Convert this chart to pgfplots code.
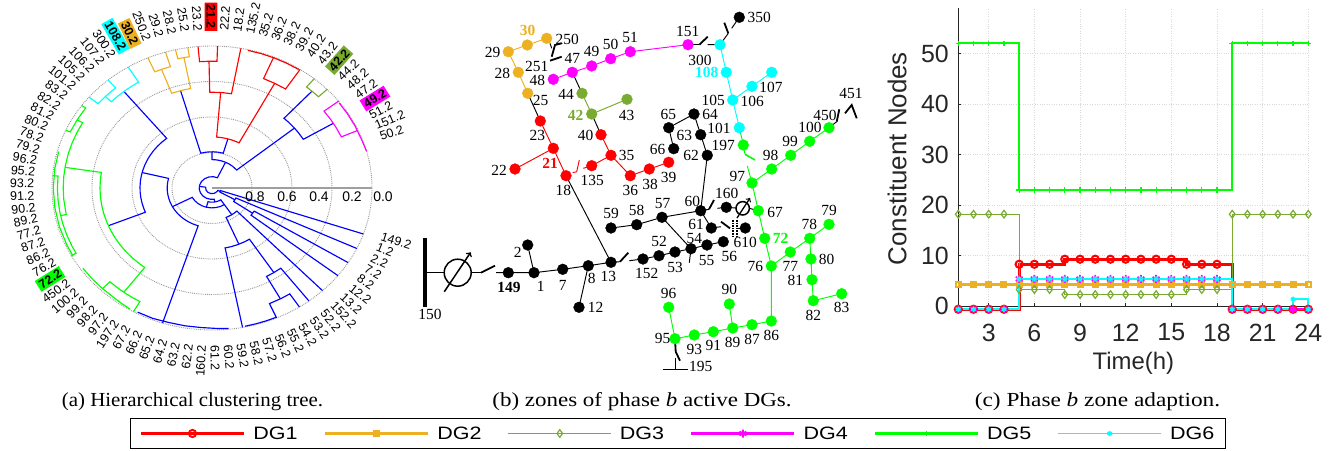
\documentclass[border=0pt]{standalone}
\usepackage{fontspec}
\setmainfont{Liberation Sans}
\newfontfamily\tnr{Liberation Serif}
\usepackage{pgfplots}
\usepackage{pgfplotstable}
\pgfplotsset{compat=1.18}
\definecolor{dgorange}{rgb}{0.93,0.69,0.13}
\definecolor{dgolive}{rgb}{0.47,0.67,0.19}
\definecolor{dggreen}{rgb}{0,1,0}
\definecolor{dgcyan}{rgb}{0,1,1}
\definecolor{dgblue}{rgb}{0,0,1}
\definecolor{dgred}{rgb}{1,0,0}
\definecolor{dgmag}{rgb}{1,0,1}
\definecolor{dgax}{rgb}{0.15,0.15,0.15}
\newcommand{\br}[2]{\addplot[data cs=polar,#1,line width=1.15bp,line join=miter] coordinates {#2};}
\newcommand{\ed}[3][0.95bp]{\addplot[#2,line width=#1] coordinates {#3};}
\newcommand{\nd}[2]{\addplot[only marks,mark=*,mark size=5.4bp,mark options={draw=#1,fill=#1}] coordinates {#2};}
\pgfplotstableread{
h  a    b    c    d    e   f
1  -0.6 4.3  18.2 -0.6 52  -0.6
2  -0.6 4.3  18.2 -0.6 52  -0.6
3  -0.6 4.3  18.2 -0.6 52  -0.6
4  -0.6 4.3  18.2 -0.6 52  -0.6
5  8.3  4.3  3.3  5.4  23  5.4
6  8.3  4.3  3.3  5.4  23  5.4
7  8.3  4.3  3.3  5.4  23  5.4
8  9.3  4.3  2.3  5.4  23  5.4
9  9.3  4.3  2.3  5.4  23  5.4
10 9.3  4.3  2.3  5.4  23  5.4
11 9.3  4.3  2.3  5.4  23  5.4
12 9.3  4.3  2.3  5.4  23  5.4
13 9.3  4.3  2.3  5.4  23  5.4
14 9.3  4.3  2.3  5.4  23  5.4
15 9.3  4.3  2.3  5.4  23  5.4
16 8.3  4.3  3.3  5.4  23  5.4
17 8.3  4.3  3.3  5.4  23  5.4
18 8.3  4.3  3.3  5.4  23  5.4
19 -0.6 4.3  18.2 -0.6 52  -0.6
20 -0.6 4.3  18.2 -0.6 52  -0.6
21 -0.6 4.3  18.2 -0.6 52  -0.6
22 -0.6 4.3  18.2 -0.6 52  -0.6
23 -0.6 4.3  18.2 -0.6 52  1.4
24 -0.6 4.3  18.2 -0.6 52  -0.6
}\zonetable
\begin{document}
\begin{tikzpicture}
\useasboundingbox (0,0) rectangle (1336bp,-451bp);
% rings
\begin{scope}[x=1bp,y=-1bp]
\foreach \k in {1,2,3,4}{
  \draw[gray!80,densely dotted,line width=0.9bp] (212,188) ellipse [x radius={40*\k},y radius={35.5*\k}];
}
\draw[gray!75,line width=1.7bp] (212,188)--(372,188);
\end{scope}
% (a) polar tree
\begin{axis}[at={(212bp,-188bp)},anchor=center,scale only axis,width=320bp,height=284bp,
  xmin=-1,xmax=1,ymin=-1,ymax=1,axis lines=none,clip=false]
% root and blue
\br{dgblue}{(172,.08)(172,.04)(200,.04)(230,.04)(260,.04)(290,.04)(320,.04)(335,.04)(335,.055)}
\br{dgblue}{(65,.197)(65,.08)(85,.08)(105,.08)(125,.08)(145,.08)(165,.08)(185,.08)(205,.08)(225,.08)(245,.08)(265,.08)(280,.08)(280,.1)}
\br{dgblue}{(-104.5,.14)(-104.5,.1)(-95,.1)(-85,.1)(-75,.1)(-65,.1)(-56.6,.1)(-56.6,.225)}
\br{dgblue}{(-152,.28)(-152,.14)(-140,.14)(-128,.14)(-116,.14)(-104,.14)(-92,.14)(-80,.14)(-68,.14)(-57,.14)}
\br{dgblue}{(166,.45)(166,.28)(172,.28)(178,.28)(184,.28)(190,.28)(196,.28)(202,.28)(208,.28)(214,.28)(220,.28)(226,.28)(232,.28)(238,.28)(244,.28)(252,.28)(252,1)}
\br{dgblue}{(129,.875)(129,.45)(134,.45)(139,.45)(144,.45)(149,.45)(154,.45)(159,.45)(164,.45)(169,.45)(174,.45)(179,.45)(184,.45)(189,.45)(194,.45)(199,.45)(202.3,.45)(202.3,.70)}
\br{dgblue}{(90,.255)(90,.2)(82,.2)(74,.2)(66,.2)(58,.2)(50,.2)(39.3,.2)(39.3,.666)}
\br{dgblue}{(106,.713)(106,.255)(100,.255)(94,.255)(88,.255)(82,.255)(74,.255)(74,.36)}
\br{dgblue}{(47.5,.925)(47.5,.666)(44,.666)(40,.666)(36,.666)(31,.666)(31,.885)}
\br{dgblue}{(-30,.165)(-30,.055)(-25,.055)(-18.9,.055)(-18.9,1)}
\br{dgblue}{(-25.2,1)(-25.2,.165)(-30,.165)(-35,.165)(-35,.31)}
\br{dgblue}{(-31.7,1)(-31.7,.31)(-35,.31)(-38.1,.31)(-38.1,1)}
\br{dgblue}{(-46.3,1)(-46.3,.225)(-52,.225)(-58,.225)(-63,.225)(-67,.225)(-67,.43)}
\br{dgblue}{(-79,1)(-79,.43)(-74,.43)(-68,.43)(-62,.43)(-57,.43)(-57,.71)}
\br{dgblue}{(-61.3,.89)(-61.3,.71)(-57,.71)(-52.7,.71)(-52.7,1)}
\br{dgblue}{(-66.2,1)(-66.2,.89)(-61,.89)(-56.9,.89)(-56.9,1)}
\br{dgblue}{(-118,.99)(-112,.99)(-106,.985)(-100,.985)(-94,.985)(-88,.99)(-84,.995)}
\br{dgblue}{(-78,.995)(-74,.995)(-70,.995)(-66,.995)}
% cyan
\br{dgcyan}{(136,.927)(136,.875)(132,.875)(128,.875)(124,.875)(121.6,.875)(121.6,1)}
\br{dgcyan}{(140.2,1)(140.2,.927)(136,.927)(133,.927)(130.5,.927)(130.5,1)}
% orange
\br{dgorange}{(110.7,.893)(110.7,.713)(107,.713)(104,.713)(100.8,.713)(100.8,.935)}
\br{dgorange}{(103.2,1)(103.2,.935)(100.8,.935)(98.7,.935)(98.7,1)}
\br{dgorange}{(113.6,1)(113.6,.893)(110,.893)(106.9,.893)(106.9,1)}
% red
\br{dgred}{(85.4,.675)(85.4,.36)(80,.36)(75,.36)(70,.36)(65,.36)(62,.36)(62,.835)}
\br{dgred}{(67.3,1)(67.3,.835)(62,.835)(56.6,.835)(56.6,1)}
\br{dgred}{(91.2,.893)(91.2,.675)(85,.675)(79.6,.675)(79.6,1)}
\br{dgred}{(95,1)(95,.893)(91,.893)(88,.893)(88,1)}
\br{dgred}{(77,.995)(72,.995)(67,.995)(62,.995)(57,.995)}
% olive
\br{dgolive}{(50.3,1)(50.3,.925)(47,.925)(44,.925)(44,1)}
% magenta
\br{dgmag}{(37.7,1)(37.7,.885)(33,.885)(29,.885)(24,.885)(24,.995)}
\br{dgmag}{(37,.995)(32,.995)(26,.995)(20,.995)(15,1)}
% green
\br{dggreen}{(171,.93)(171,.70)(175,.70)(180,.70)(185,.70)(190,.70)(195,.70)(200,.70)(205,.70)(210,.70)(215,.70)(220,.70)(225,.70)(230,.70)(233.1,.70)(233.1,.918)}
\br{dggreen}{(-134,.99)(-134,.918)(-130,.918)(-126,.918)(-122,.918)(-119.4,.918)(-119.4,1)}
\br{dggreen}{(-145,.985)(-140,.985)(-135,.985)(-130,.985)(-125,.99)(-121,.995)}
\br{dggreen}{(150.4,.97)(150.4,.93)(155,.93)(160,.93)(165,.93)(170,.93)(175,.93)(180,.93)(185,.93)(191.6,.93)(191.6,.966)}
\br{dggreen}{(175,1)(175,.966)(180,.966)(185,.966)(190,.966)(195,.966)(200,.966)(205,.966)(208.4,.966)(208.4,1)}
\br{dggreen}{(156,1)(156,.97)(150,.97)(144.5,.97)(144.5,1)}
\br{dggreen}{(165,.992)(172,.992)(180,.992)(188,.992)(196,.992)(204,.992)(209,.992)}
\end{axis}
% (b) network
\begin{axis}[at={(0bp,-451bp)},anchor=south west,scale only axis,width=1336bp,height=451bp,
  xmin=0,xmax=1336,ymin=0,ymax=451,y dir=reverse,axis lines=none,clip=false]
% black feeders
\ed[3.4bp]{black}{(425,238.3)(425,306.7)}
\ed{black}{(425,272.7)(444,272.7)}
\ed[1.5bp]{black,->}{(444.3,291.7)(470.7,252.3)}
\ed{black}{(471,272.7)(481,272.7)}
\ed[1.8bp]{black}{(481,272.7)(495,265.7)}
\ed{black}{(496,272.7)(508.3,272.7)(534,272.7)(562.7,269.3)(588.3,265.7)(611,262.3)(620,261.7)}
\ed{black}{(534,272.7)(527.7,245)}
\ed{black}{(588.3,265.7)(579,307.3)}
\ed{black}{(611,262.3)(566,175.7)}
\ed[1.8bp]{black}{(620,261.7)(628.3,252.7)}
\ed{black}{(629.3,260.7)(643,259)(659,255.7)(675,252)(691,248.7)(707,245)(723.3,241.7)}
\ed{black}{(691,248.7)(689.3,262.7)}
\ed{black}{(691,248.7)(662,217.3)}
\ed{black}{(611,228)(636.7,224.7)(662,217.3)(700.7,210.7)(707.3,155.3)(700.7,134.7)(694,114)(668.7,127.7)(673.7,148.7)}
\ed{black}{(700.7,210.7)(711.3,228)(721,226.7)}
\ed[1.8bp]{black}{(721,221.7)(730,228.3)}
\ed{black}{(737,228)(745.3,228)}
\ed[1.6bp,dash pattern=on 1.6bp off 1bp]{black}{(733,220)(733,238)}
\ed[1.6bp,dash pattern=on 1.6bp off 1bp]{black}{(737,220)(737,238)}
\ed{black}{(700.7,210.7)(709,209.3)}
\ed[1.8bp]{black}{(709,209.3)(714,200)}
\ed{black}{(717.3,208.3)(726.3,207.3)(736,208)}
\ed{black}{(749.3,208.3)(758.3,210.7)}
\ed[1.3bp]{black,->}{(737,218)(750,198)}
\ed{black}{(527.7,93.3)(540.3,121)}
\ed{black}{(591.7,114)(601,134.7)}
\ed{black}{(582,93.3)(572.3,72.3)}
\ed{black}{(550,43.3)(551.7,48.3)}
\ed[1.8bp]{black}{(551.7,56.7)(555,45)(561.7,43.3)}
\ed[1.8bp]{black}{(550,60.7)(561.7,56.7)}
\ed{black}{(688,44.7)(699.3,44.7)}
\ed[1.8bp]{black}{(699.3,44.7)(707.7,36.7)}
\ed{black}{(707.7,44.7)(720,44.7)(728.3,33.3)}
\ed[1.8bp]{black}{(728.3,33.3)(724.3,22.7)}
\ed{black}{(731.7,28.3)(739.3,17.3)}
\ed{black}{(829,127.7)(836.7,121.7)}
\ed[1.8bp]{black}{(836.7,121.7)(839.3,109.3)}
\ed[1.8bp]{black}{(845,113.3)(851.7,105)(856.7,118.3)}
\ed[1.8bp]{black}{(675,338.7)(675.7,351.7)(680,360.7)}
\ed{black}{(675.7,358)(675.7,369.3)}
\ed[1.5bp]{black}{(662.7,369.3)(687.7,369.3)}
% coloured edges
\ed{dgred}{(540.3,121)(553.3,148.3)(566,175.7)}
\ed{dgred}{(553.3,148.3)(515,169)}
\ed{dgred}{(572.7,172.7)(576.7,171.7)(579.3,160)}
\ed{dgred}{(583.3,168.3)(591.7,165.7)(611,155.3)(601,134.7)}
\ed{dgred}{(611,155.3)(630.3,175.7)(649.3,169)(668.7,162.3)}
\ed{dgorange}{(527.7,93.3)(518.3,72.3)(508.3,51.7)(527.3,45)(546.7,38.3)(550,43.3)}
\ed{dgolive}{(582,93.3)(591.7,114)(627,99.3)}
\ed{dgmag}{(553.3,79.3)(572.3,72.3)(591.7,66)(610.7,58.7)(630.3,51.7)(688,44.7)}
\ed{dgcyan}{(720,44.7)(726.3,72.3)(732.7,100)(739.3,127.7)}
\ed{dgcyan}{(732.7,100)(752,86.3)(771.7,72.3)}
\ed{dggreen}{(739.3,127.7)(743.3,145)(745,154.3)}
\ed[1.6bp]{dggreen}{(745,154.3)(755,160)}
\ed{dggreen}{(747.3,166)(752,183)(758.3,210.7)(764.7,238.3)(771.3,266)(771.3,321)(752,324.7)(732.7,328)(713.3,331.7)(694.3,335)(675,338.7)(668.7,307.3)}
\ed{dggreen}{(752,183)(771.7,169)(790.7,155.3)(809.7,141.3)(829,127.7)}
\ed{dggreen}{(732.7,328)(729.3,304)}
\ed{dggreen}{(771.3,266)(790.3,252)(809.7,238.3)(829,224.3)}
\ed{dggreen}{(809.7,238.3)(811,259)(812,279.7)(813.3,300.7)(841.7,293.7)}
% nodes
\nd{black}{(739.3,17.3)(508.3,272.7)(534,272.7)(527.7,245)(562.7,269.3)(588.3,265.7)(579,307.3)(611,262.3)(611,228)(636.7,224.7)(662,217.3)(700.7,210.7)(726.3,207.3)(711.3,228)(745.3,228)(691,248.7)(707,245)(723.3,241.7)(675,252)(659,255.7)(643,259)(668.7,127.7)(694,114)(700.7,134.7)(707.3,155.3)(673.7,148.7)}
\nd{dgred}{(540.3,121)(553.3,148.3)(515,169)(566,175.7)(591.7,165.7)(611,155.3)(601,134.7)(630.3,175.7)(649.3,169)(668.7,162.3)}
\nd{dgorange}{(508.3,51.7)(527.3,45)(546.7,38.3)(518.3,72.3)(527.7,93.3)}
\nd{dgolive}{(591.7,114)(627,99.3)(582,93.3)}
\nd{dgmag}{(572.3,72.3)(553.3,79.3)(591.7,66)(610.7,58.7)(630.3,51.7)(688,44.7)}
\nd{dgcyan}{(720,44.7)(726.3,72.3)(732.7,100)(752,86.3)(771.7,72.3)(739.3,127.7)}
\nd{dggreen}{(743.3,145)(752,183)(771.7,169)(790.7,155.3)(809.7,141.3)(829,127.7)(758.3,210.7)(764.7,238.3)(771.3,266)(790.3,252)(809.7,238.3)(829,224.3)(811,259)(812,279.7)(813.3,300.7)(841.7,293.7)(668.7,307.3)(675,338.7)(694.3,335)(713.3,331.7)(732.7,328)(729.3,304)(752,324.7)(771.3,321)}
\end{axis}
% (c) line chart
\begin{axis}[at={(958.3bp,-306.2bp)},anchor=south west,scale only axis,width=350bp,height=298.2bp,
  xmin=1,xmax=24,ymin=0,ymax=59,clip=false,
  axis x line=bottom,axis y line=left,axis line style={-,dgax,line width=0.8bp},
  xtick={3,6,...,24},ytick={0,10,...,50},
  tick align=inside,tick style={dgax,line width=0.6bp},major tick length=3bp,
  grid=major,major grid style={gray!30,dotted,line width=0.8bp},
  /pgf/number format/assume math mode=true,
  tick label style={font=\fontsize{25}{27}\selectfont,text=dgax},
  xticklabel style={yshift=-14bp},
  yticklabel style={xshift=-6bp},
  xlabel={Time(h)},ylabel={Constituent Nodes},
  label style={font=\fontsize{24}{26}\selectfont,text=dgax},
  xlabel style={at={(axis description cs:0.5,-0.19)},anchor=center},
  ylabel style={at={(axis description cs:-0.175,0.495)},anchor=center,font=\fontsize{26}{28}\selectfont},
  legend style={at={(-0.8009,-0.4269)},anchor=center,legend columns=6,draw=black,line width=0.8bp,
    fill=white,font=\fontsize{18}{20}\selectfont,
    /tikz/every even column/.append style={column sep=24bp},
    /tikz/every odd column/.append style={column sep=6bp},inner xsep=9bp,inner ysep=6bp},
  legend cell align=left,
  legend image code/.code={\draw[mark repeat=2,mark phase=2,#1] plot coordinates {(0bp,0bp)(51.5bp,0bp)(103bp,0bp)};},
  const plot mark left]
\addplot[dgred,line width=2.8bp,mark=o,mark size=3.6bp,mark options={solid,line width=2bp}] table[x=h,y=a] {\zonetable};
\addplot[dgorange,line width=2.8bp,mark=square,mark size=2.6bp,mark options={solid,line width=1.8bp}] table[x=h,y=b] {\zonetable};
\addplot[dgolive,line width=1.3bp,mark=diamond,mark size=3.8bp,mark options={solid,line width=1.2bp}] table[x=h,y=c] {\zonetable};
\addplot[dgmag,line width=2.4bp,mark=asterisk,mark size=4bp,mark options={solid,line width=1.8bp}] table[x=h,y=d] {\zonetable};
\addplot[dggreen,line width=2.2bp,mark=+,mark size=2.8bp,mark options={solid,line width=1.2bp}] table[x=h,y=e] {\zonetable};
\addplot[dgcyan,line width=1.9bp,mark=asterisk,mark size=2.6bp,mark options={solid,line width=1.5bp}] table[x=h,y=f] {\zonetable};
\legend{\scalebox{1.2}[1]{DG1},\scalebox{1.2}[1]{DG2},\scalebox{1.2}[1]{DG3},\scalebox{1.2}[1]{DG4},\scalebox{1.2}[1]{DG5},\scalebox{1.2}[1]{DG6}}
\end{axis}
% text
\begin{scope}[x=1bp,y=-1bp]
\draw[black,line width=1.5bp] (457.7,272.7) circle [radius=13.5];
\draw[black,line width=1.5bp] (742.7,208.3) circle [radius=6.7];
% tree labels
\foreach \lab [count=\i from 0] in {149.2,1.2,2.2,7.2,8.2,12.2,13.2,152.2,52.2,53.2,54.2,55.2,56.2,57.2,58.2,59.2,60.2,61.2,160.2,62.2,63.2,64.2,65.2,66.2,67.2,197.2,97.2,98.2,99.2,100.2,450.2,72.2,76.2,86.2,87.2,77.2,89.2,90.2,91.2,93.2,95.2,96.2,79.2,78.2,80.2,81.2,82.2,83.2,101.2,105.2,106.2,107.2,300.2,108.2,30.2,250.2,29.2,28.2,25.2,23.2,21.2,22.2,18.2,135.2,35.2,36.2,38.2,39.2,40.2,43.2,42.2,44.2,48.2,47.2,49.2,51.2,151.2,50.2}{
  \pgfmathsetmacro\t{-17.7-4.2*\i}
  \pgfmathsetmacro\px{212+1.105*160*cos(\t)}
  \pgfmathsetmacro\py{188-1.105*142*sin(\t)}
  \def\fcol{none}\def\wt{}\def\isp{0.8bp}
  \ifnum\i=31 \def\fcol{dggreen}\def\wt{\bfseries}\def\isp{2bp}\fi
  \ifnum\i=53 \def\fcol{dgcyan}\def\wt{\bfseries}\def\isp{2bp}\fi
  \ifnum\i=54 \def\fcol{dgorange}\def\wt{\bfseries}\def\isp{2bp}\fi
  \ifnum\i=60 \def\fcol{dgred}\def\wt{\bfseries}\def\isp{2bp}\fi
  \ifnum\i=70 \def\fcol{dgolive}\def\wt{\bfseries}\def\isp{2bp}\fi
  \ifnum\i=74 \def\fcol{dgmag}\def\wt{\bfseries}\def\isp{2bp}\fi
  \pgfmathparse{cos(\t)>=0?1:0}
  \ifnum\pgfmathresult=1
    \pgfmathsetmacro\rr{\t}
    \node[anchor=west,rotate=\rr,inner sep=\isp,fill=\fcol,font=\fontsize{12.5}{13}\selectfont\wt] at (\px,\py) {\lab};
  \else
    \pgfmathsetmacro\rr{\t+180}
    \node[anchor=east,rotate=\rr,inner sep=\isp,fill=\fcol,font=\fontsize{12.5}{13}\selectfont\wt] at (\px,\py) {\lab};
  \fi
}
\foreach \x/\v in {255/0.8,287/0.6,319/0.4,352/0.2,383/0.0}{
  \node[font=\fontsize{14}{15}\selectfont] at (\x,197) {\v};
}
% node labels
\foreach \x/\y/\v in {492.7/52.3/29,567.3/39/250,502.3/73.7/28,536.7/66.7/251,537.3/80/48,572.3/58.3/47,591.7/51/49,610.7/44/50,630/37.3/51,540.7/100.7/25,566/94/44,626.7/115/43,585.7/135/40,537.3/135/23,626.7/155.7/35,499/170/22,592.3/180.7/135,563.3/190.7/18,630.3/190.7/36,759.3/17.3/350,687.7/31/151,700/60/300,713.3/100/105,752.3/101/106,771/87.3/107,719/128/101,668.3/114/65,710/114.7/64,684.3/135/63,723.3/145.3/197,691/155.7/62,657.7/149/66,668.7/177.3/39,650/184/38,737.3/176.7/97,770.7/155/98,790/141.3/99,810/127.3/100,825/115/450,851/93.3/451,692.3/201.7/60,517.7/252/2,540.7/286/1,562.7/285/7,591.7/278.7/8,608.3/276.7/13,595.7/307.7/12,430/314.3/150,611/213.3/59,636.7/210/58,662.7/203.3/57,726.7/193.3/160,696/224/61,745.3/242.7/610,775/212.3/67,694.3/238.3/54,659/241/52,646.7/273.3/152,675/267.3/53,706.7/260.7/55,729.3/256.7/56,755.3/266/76,790.3/266.7/77,809.3/224/78,829/210/79,826.7/259.3/80,795.3/280/81,813.3/315/82,841.7/307.7/83,668.7/293.3/96,662.7/338.3/95,694.3/349.3/93,713.3/345.7/91,732.7/342.3/89,729.3/289.3/90,752/339/87,771.3/335.7/86,700.7/366.7/195}{
  \node[font=\tnr\fontsize{15.5}{16}\selectfont,inner sep=0pt] at (\x,\y) {\v};
}
\node[font=\tnr\bfseries\fontsize{15.5}{16}\selectfont,inner sep=0pt] at (509,287.3) {149};
\node[font=\tnr\bfseries\fontsize{15.5}{16}\selectfont,inner sep=0pt,text=dgorange] at (527.7,30.7) {30};
\node[font=\tnr\bfseries\fontsize{15.5}{16}\selectfont,inner sep=0pt,text=dgolive] at (575.7,115) {42};
\node[font=\tnr\bfseries\fontsize{15.5}{16}\selectfont,inner sep=0pt,text=dgred] at (550,163.3) {21};
\node[font=\tnr\bfseries\fontsize{15.5}{16}\selectfont,inner sep=0pt,text=dgcyan] at (706.7,72.7) {108};
\node[font=\tnr\bfseries\fontsize{15.5}{16}\selectfont,inner sep=0pt,text=dggreen] at (780.7,238.3) {72};
% captions
\node[font=\tnr\fontsize{20}{22}\selectfont,anchor=base] at (192.5,406) {\scalebox{1.05}[1]{(a) Hierarchical clustering tree.}};
\node[font=\tnr\fontsize{20}{22}\selectfont,anchor=base] at (642,406) {\scalebox{1.153}[1]{(b) zones of phase \textit{b} active DGs.}};
\node[font=\tnr\fontsize{20}{22}\selectfont,anchor=base] at (1097.5,406) {\scalebox{1.17}[1]{(c) Phase \textit{b} zone adaption.}};
\end{scope}
\end{tikzpicture}
\end{document}
